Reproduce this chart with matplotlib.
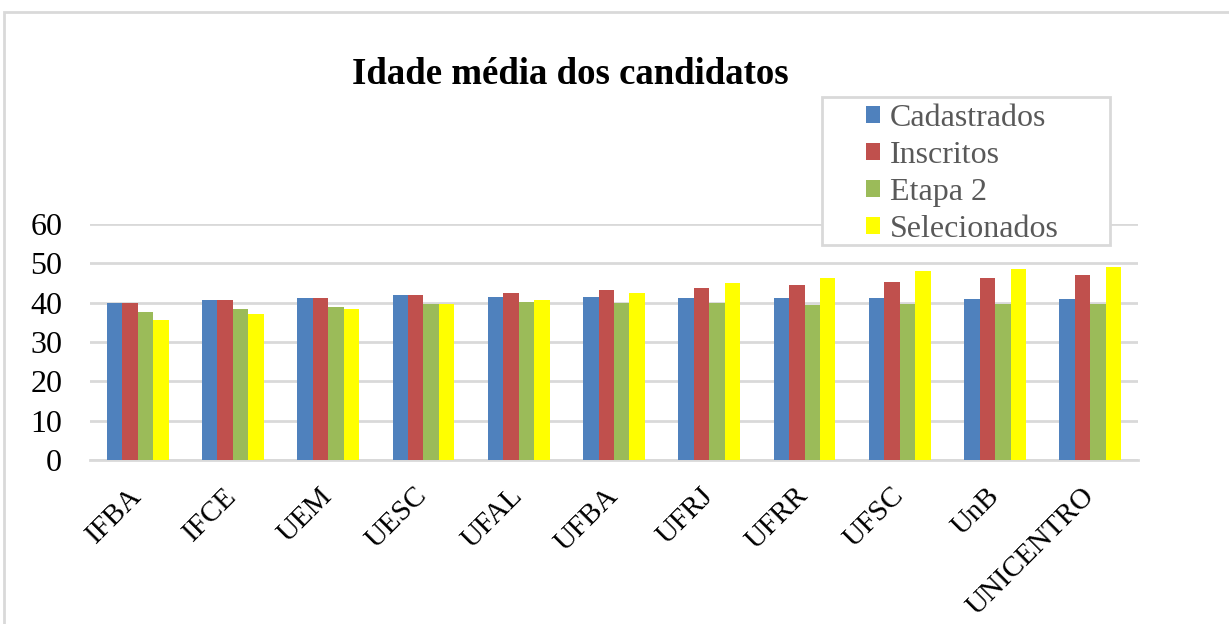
import numpy as np
import matplotlib.pyplot as plt
from matplotlib.patches import Rectangle

plt.rcParams['font.family'] = ['Liberation Serif', 'DejaVu Serif']

categorias = ['IFBA', 'IFCE', 'UEM', 'UESC', 'UFAL', 'UFBA', 'UFRJ', 'UFRR', 'UFSC', 'UnB', 'UNICENTRO']
cadastrados = [40.0, 40.6, 41.3, 42.0, 41.5, 41.5, 41.2, 41.2, 41.2, 40.9, 40.9]
inscritos = [40.0, 40.6, 41.3, 42.0, 42.4, 43.1, 43.8, 44.6, 45.3, 46.2, 47.0]
etapa2 = [37.6, 38.3, 39.0, 39.7, 40.1, 39.9, 39.9, 39.5, 39.6, 39.6, 39.6]
selecionados = [35.7, 37.0, 38.3, 39.7, 40.8, 42.4, 44.9, 46.2, 48.0, 48.6, 49.0]
series = ['Cadastrados', 'Inscritos', 'Etapa 2', 'Selecionados']
cores = ['#4F81BD', '#C0504D', '#9BBB59', '#FFFF00']

W, H = 1229, 624
fig = plt.figure(figsize=(W / 100, H / 100), dpi=100)

# moldura cinza do grafico
fig.patches.append(Rectangle((4 / W, -0.05), 1.1, 1 - 12 / H + 0.05, transform=fig.transFigure,
                             fill=False, edgecolor='#d9d9d9', lw=2))

ax = fig.add_axes([90 / W, (H - 460) / H, (1138 - 90) / W, (460 - 224) / H])
x = np.arange(len(categorias))
largura = 0.162
dados = [cadastrados, inscritos, etapa2, selecionados]
for i in range(4):
    ax.bar(x + (i - 1.5) * largura, dados[i], largura, color=cores[i], label=series[i], zorder=3)

ax.set_xlim(-0.5, len(categorias) - 0.5)
ax.set_ylim(0, 60)
ax.set_yticks([0, 10, 20, 30, 40, 50, 60])
ax.grid(axis='y', color='#d9d9d9', lw=2, zorder=0)
ax.set_axisbelow(True)
for s in ['left', 'right', 'top']:
    ax.spines[s].set_visible(False)
ax.spines['bottom'].set_color('#d9d9d9')
ax.spines['bottom'].set_linewidth(2)
ax.tick_params(axis='both', length=0, colors='black')
ax.tick_params(axis='y', pad=20, labelsize=23)
ax.set_xticks(x)
ax.set_xticklabels(categorias, rotation=45, ha='right', va='center', rotation_mode='anchor',
                   fontsize=21)
ax.tick_params(axis='x', pad=23)

fig.text(570 / W, 1 - 75 / H, 'Idade média dos candidatos', ha='center', va='center',
         fontsize=26.5, fontweight='bold')

# legenda com moldura propria
fig.patches.append(Rectangle((822 / W, 1 - 245 / H), (1110 - 822) / W, (245 - 97) / H,
                             transform=fig.transFigure, facecolor='white', edgecolor='#d9d9d9',
                             lw=2, zorder=5))
leg = fig.legend(loc='upper left', bbox_to_anchor=(866 / W, 1 - 104 / H), frameon=False,
                 fontsize=23, handlelength=0.45, handleheight=0.45, handletextpad=0.3,
                 labelspacing=0.25, borderpad=0, borderaxespad=0)
leg.set_zorder(6)
for t in leg.get_texts():
    t.set_color('#595959')

fig.savefig('out.png', dpi=100)
